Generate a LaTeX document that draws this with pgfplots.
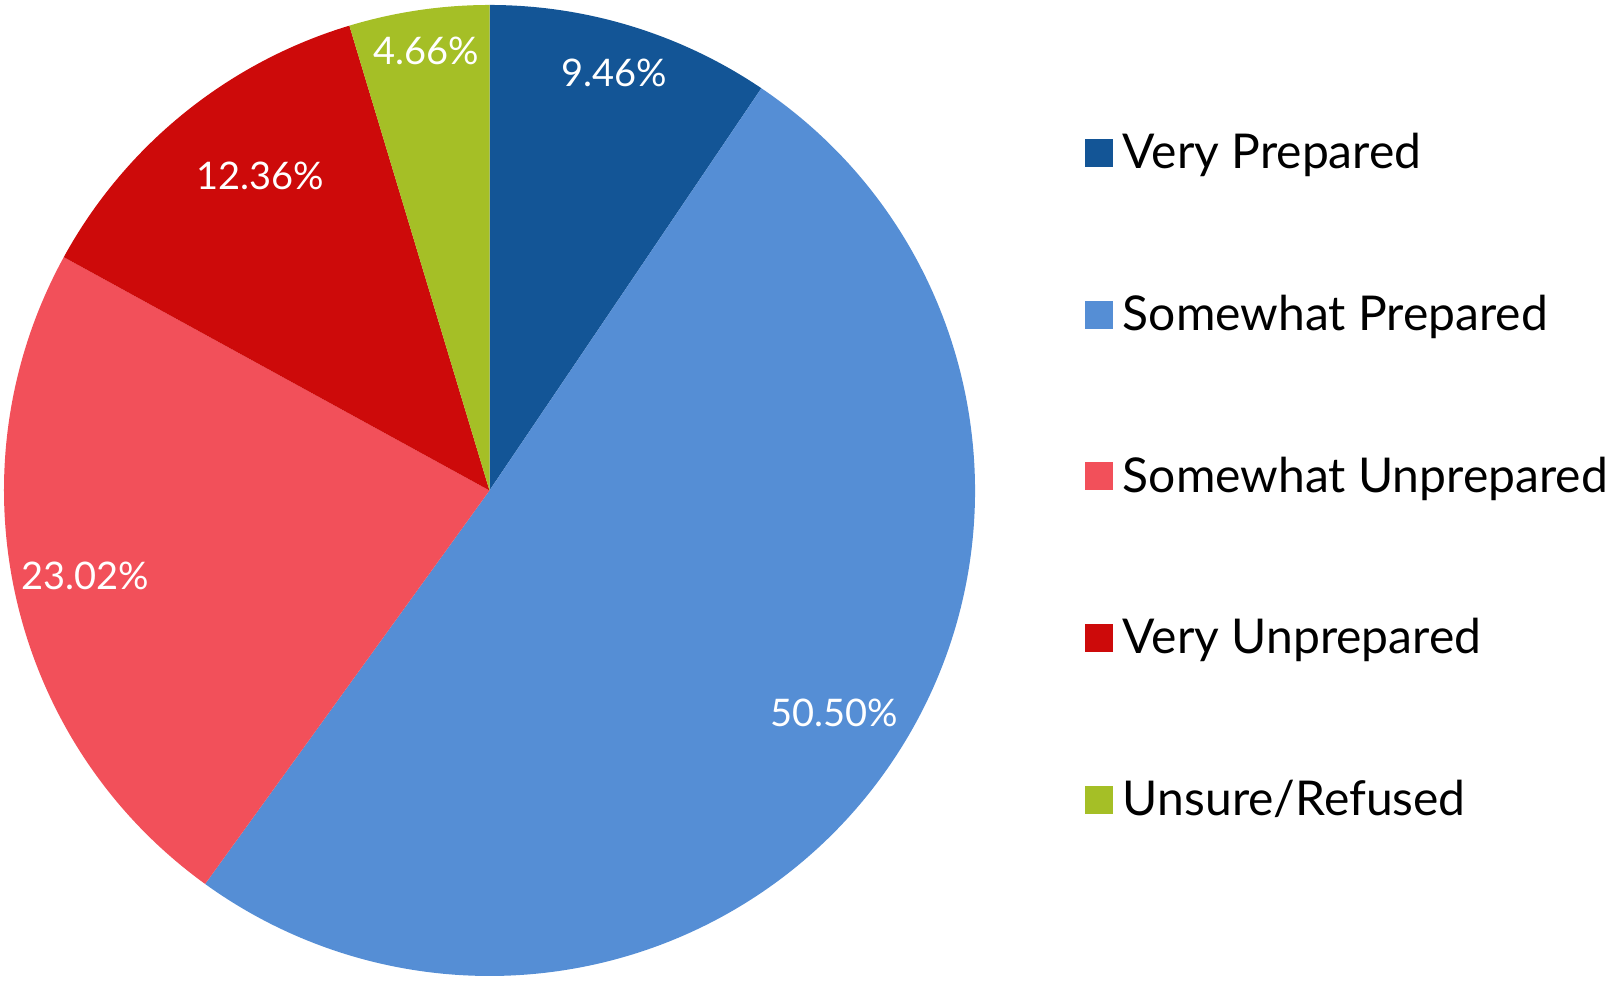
\documentclass[border=0pt]{standalone}
\usepackage{pgfplots}
\usepackage{pgfplotstable}
\pgfplotsset{compat=1.18}
\usepackage{fontspec}
\setmainfont{Lato}
\definecolor{c0}{HTML}{135596}
\definecolor{c1}{HTML}{558ED5}
\definecolor{c2}{HTML}{F2505A}
\definecolor{c3}{HTML}{CD0A0A}
\definecolor{c4}{HTML}{A5BF26}
% value (percent) and label position (pixels of the picture, y from bottom)
\pgfplotstableread{
value lx ly
9.46 614 908
50.50 834 268
23.02 85 405
12.36 260 805
4.66 426 930
}\piedata
\def\cx{489.5}
\def\cy{490.5}
\def\R{121.375pt}
\begin{document}
\begin{tikzpicture}
\def\curang{90}%
\foreach \i in {0,1,2,3,4}{%
  \pgfplotstablegetelem{\i}{value}\of\piedata \let\v\pgfplotsretval
  \pgfplotstablegetelem{\i}{lx}\of\piedata \let\lx\pgfplotsretval
  \pgfplotstablegetelem{\i}{ly}\of\piedata \let\ly\pgfplotsretval
  \pgfmathsetmacro\ea{\curang-3.6*\v}%
  \expandafter\xdef\csname sa\i\endcsname{\curang}%
  \expandafter\xdef\csname ea\i\endcsname{\ea}%
  \expandafter\xdef\csname lx\i\endcsname{\lx}%
  \expandafter\xdef\csname ly\i\endcsname{\ly}%
  \expandafter\xdef\csname lab\i\endcsname{\v}%
  \xdef\curang{\ea}%
}%
\begin{axis}[
  scale only axis,
  width=401.5pt, height=245.25pt,
  xmin=0, xmax=1606, ymin=0, ymax=981,
  hide axis, clip=false,
  legend image code/.code={\fill[#1, draw=none] (0pt,-2.57pt) rectangle (7pt,4.43pt);},
  legend cell align=left,
  legend style={draw=none, fill=none, inner sep=0pt, outer sep=0pt,
    at={(0.67559,0.86442)}, anchor=north west,
    font=\fontsize{12}{14}\selectfont,
    column sep=2.5pt, row sep=28.4pt,
    nodes={inner sep=0pt, text height=9pt, text depth=3pt}},
]
\pgfplotsinvokeforeach{0,1,2,3,4}{
  \fill[c#1] (axis cs:\cx,\cy) -- ([shift={(\csname sa#1\endcsname:\R)}]axis cs:\cx,\cy)
     arc[start angle=\csname sa#1\endcsname, end angle=\csname ea#1\endcsname, radius=\R] -- cycle;
  \node[text=white, font=\fontsize{9.5}{11}\selectfont, inner sep=0pt]
     at (axis cs:\csname lx#1\endcsname,\csname ly#1\endcsname) {\csname lab#1\endcsname\%};
}
\addlegendimage{fill=c0}\addlegendentry{Very Prepared}
\addlegendimage{fill=c1}\addlegendentry{Somewhat Prepared}
\addlegendimage{fill=c2}\addlegendentry{Somewhat Unprepared}
\addlegendimage{fill=c3}\addlegendentry{Very Unprepared}
\addlegendimage{fill=c4}\addlegendentry{Unsure/Refused}
\end{axis}
\pgfresetboundingbox
\path (current axis.south west) rectangle (current axis.north east);
\end{tikzpicture}
\end{document}
